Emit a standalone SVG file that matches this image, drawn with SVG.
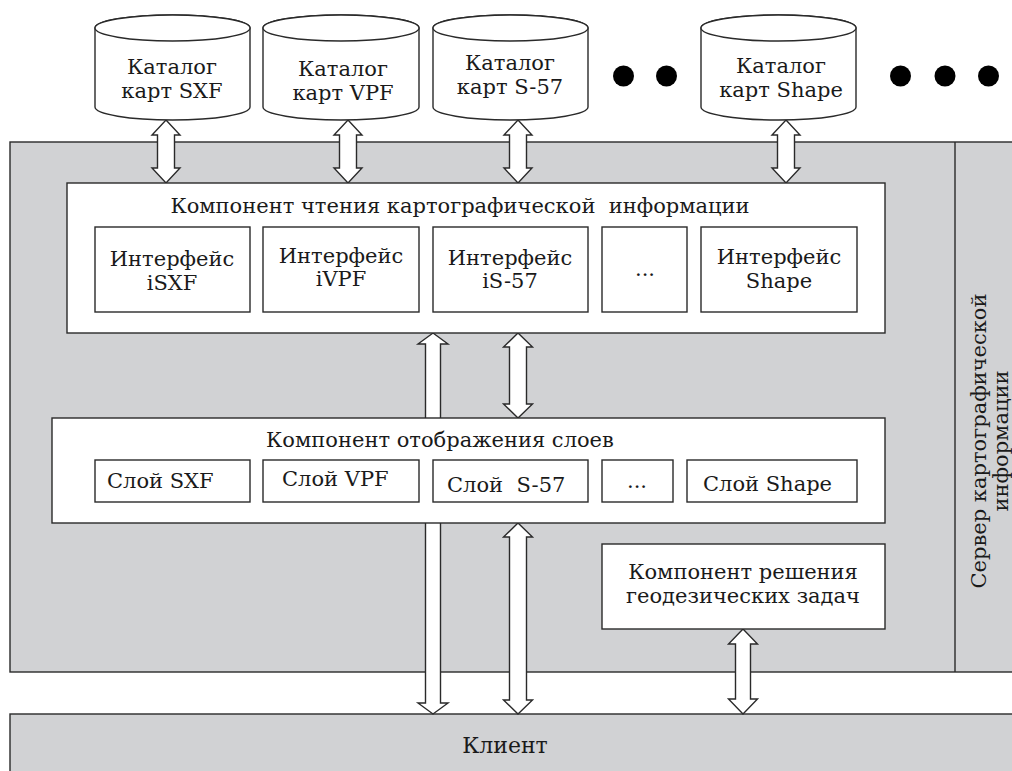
<svg xmlns="http://www.w3.org/2000/svg" width="1012" height="771" viewBox="0 0 1012 771">
<style>
.s{stroke:#2a2a2a;stroke-width:1.4}
.g{fill:#d1d2d4}
.w{fill:#ffffff}
.t{font-family:"DejaVu Serif","Liberation Serif",serif;fill:#1a1a1a;font-size:21px;text-anchor:middle;white-space:pre}
.st{font-family:"DejaVu Serif","Liberation Serif",serif;fill:#1a1a1a;font-size:21px;white-space:pre}
.c{font-size:22px}
</style>
<rect width="1012" height="771" fill="#ffffff"/>
<g id="server">
<rect class="g s" x="10" y="142" width="1020" height="530"/>
<line class="s" x1="955" y1="142" x2="955" y2="672"/>
<text class="t" transform="translate(986,441) rotate(-90)">Сервер картографической</text>
<text class="t" transform="translate(1008,441) rotate(-90)">информации</text>
</g>
<g id="client">
<rect class="g s" x="10" y="714" width="1020" height="70"/>
<text class="t c" x="505" y="753">Клиент</text>
</g>
<g id="connectors" class="w s">
<polygon points="166,120 180,135 174.5,135 174.5,168 180,168 166,183 152,168 157.5,168 157.5,135 152,135"/>
<polygon points="348,120 362,135 356.5,135 356.5,168 362,168 348,183 334,168 339.5,168 339.5,135 334,135"/>
<polygon points="518,120 532,135 526.5,135 526.5,168 532,168 518,183 504,168 509.5,168 509.5,135 504,135"/>
<polygon points="786,120 800,135 794.5,135 794.5,168 800,168 786,183 772,168 777.5,168 777.5,135 772,135"/>
<polygon points="433,333 448,344 440.5,344 440.5,703 448,703 433,714 418,703 425.5,703 425.5,344 418,344"/>
<polygon points="518,333 532.5,347 526.5,347 526.5,404 532.5,404 518,418 503.5,404 509.5,404 509.5,347 503.5,347"/>
<polygon points="518,523 532.5,537 526.5,537 526.5,700 532.5,700 518,714 503.5,700 509.5,700 509.5,537 503.5,537"/>
<polygon points="743,629 757.5,644 750.5,644 750.5,699 757.5,699 743,714 728.5,699 735.5,699 735.5,644 728.5,644"/>
</g>
<g id="cat-sxf">
<path class="w s" d="M95,28 L95,107 A77.5,13 0 0 0 250,107 L250,28 A77.5,13 0 0 0 95,28 Z"/>
<ellipse class="w s" cx="172.5" cy="28" rx="77.5" ry="13"/>
<text class="t" x="172" y="74">Каталог</text>
<text class="t" x="172" y="98">карт SXF</text>
</g>
<g id="cat-vpf">
<path class="w s" d="M263,28 L263,107 A78,13 0 0 0 419,107 L419,28 A78,13 0 0 0 263,28 Z"/>
<ellipse class="w s" cx="341" cy="28" rx="78" ry="13"/>
<text class="t" x="343" y="76">Каталог</text>
<text class="t" x="343" y="100">карт VPF</text>
</g>
<g id="cat-s57">
<path class="w s" d="M433,28 L433,107 A77.5,13 0 0 0 588,107 L588,28 A77.5,13 0 0 0 433,28 Z"/>
<ellipse class="w s" cx="510.5" cy="28" rx="77.5" ry="13"/>
<text class="t" x="510" y="70">Каталог</text>
<text class="t" x="510" y="94">карт S-57</text>
</g>
<g id="cat-shape">
<path class="w s" d="M701,28 L701,107 A77.5,13 0 0 0 856,107 L856,28 A77.5,13 0 0 0 701,28 Z"/>
<ellipse class="w s" cx="778.5" cy="28" rx="77.5" ry="13"/>
<text class="t" x="781" y="73">Каталог</text>
<text class="t" x="781" y="97">карт Shape</text>
</g>
<g id="dots" fill="#000000">
<circle cx="623.5" cy="76" r="10.5"/>
<circle cx="666.5" cy="76" r="10.5"/>
<circle cx="900.5" cy="76" r="10.5"/>
<circle cx="945" cy="76" r="10.5"/>
<circle cx="988.5" cy="76" r="10.5"/>
</g>
<g id="reader">
<rect class="w s" x="67" y="183" width="818" height="150"/>
<text class="t" x="460" y="213">Компонент чтения картографической  информации</text>
<rect class="w s" x="95" y="227" width="155" height="85"/>
<text class="t" x="172" y="266">Интерфейс</text>
<text class="t" x="172" y="290">iSXF</text>
<rect class="w s" x="263" y="227" width="156" height="85"/>
<text class="t" x="341" y="263">Интерфейс</text>
<text class="t" x="341" y="286">iVPF</text>
<rect class="w s" x="433" y="227" width="155" height="85"/>
<text class="t" x="510" y="265">Интерфейс</text>
<text class="t" x="510" y="288">iS-57</text>
<rect class="w s" x="602" y="227" width="85" height="85"/>
<text class="t" x="645" y="276">...</text>
<rect class="w s" x="701" y="227" width="156" height="85"/>
<text class="t" x="779" y="264">Интерфейс</text>
<text class="t" x="779" y="288">Shape</text>
</g>
<g id="display">
<rect class="w s" x="52" y="418" width="833" height="105"/>
<text class="t" x="440" y="447">Компонент отображения слоев</text>
<rect class="w s" x="95" y="460" width="155" height="42"/>
<text class="st" x="107" y="488">Слой SXF</text>
<rect class="w s" x="263" y="460" width="156" height="42"/>
<text class="st" x="282" y="486">Слой VPF</text>
<rect class="w s" x="433" y="460" width="155" height="42"/>
<text class="st" x="447" y="492">Слой  S-57</text>
<rect class="w s" x="602" y="460" width="71" height="42"/>
<text class="t" x="637" y="488">...</text>
<rect class="w s" x="687" y="460" width="170" height="42"/>
<text class="st" x="703" y="491">Слой Shape</text>
</g>
<g id="geodesy">
<rect class="w s" x="602" y="544" width="283" height="85"/>
<text class="t" x="743" y="579">Компонент решения</text>
<text class="t" x="743" y="603">геодезических задач</text>
</g>
</svg>
